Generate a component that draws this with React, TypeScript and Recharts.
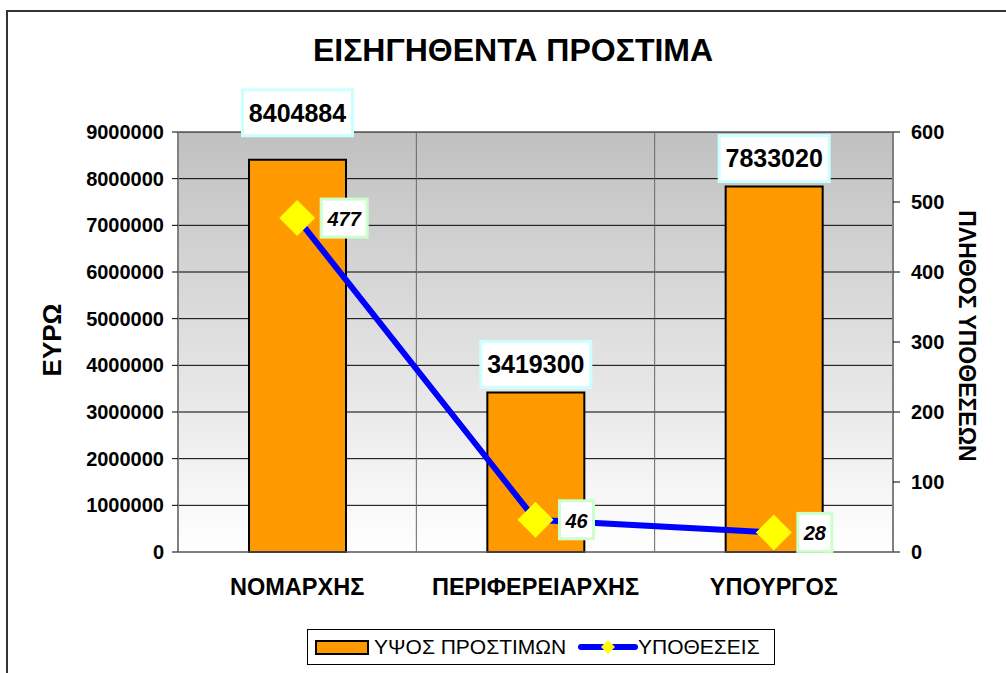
import React from "react"
import {
  ComposedChart,
  Bar,
  Line,
  XAxis,
  YAxis,
  CartesianGrid,
  Legend,
  LabelList,
  Label,
} from "recharts"

const categories = ["ΝΟΜΑΡΧΗΣ", "ΠΕΡΙΦΕΡΕΙΑΡΧΗΣ", "ΥΠΟΥΡΓΟΣ"]
const fineAmounts = [8404884, 3419300, 7833020]
const caseCounts = [477, 46, 28]
const euroTicks = [0, 1000000, 2000000, 3000000, 4000000, 5000000, 6000000, 7000000, 8000000, 9000000]
const caseTicks = [0, 100, 200, 300, 400, 500, 600]

const data = categories.map((name, i) => ({
  name,
  amount: fineAmounts[i],
  cases: caseCounts[i],
}))

const FONT = "'Liberation Sans', Arial, sans-serif"

// yellow diamond marker for the cases line
const Diamond = (props: any) => {
  const { cx, cy } = props
  if (cx == null || cy == null) return null
  const r = 18
  return (
    <path
      key={`d-${cx}`}
      d={`M${cx} ${cy - r} L${cx + r} ${cy} L${cx} ${cy + r} L${cx - r} ${cy} Z`}
      fill="#ffff00"
    />
  )
}

const BarValueLabel = (props: any) => {
  const { x, y, width, value, index } = props
  const cx = x + width / 2
  // first label sits higher in the original
  const lift = index === 0 ? 24 : 5
  const w = 110
  const h = 46
  return (
    <g>
      <rect x={cx - w / 2} y={y - lift - h} width={w} height={h} fill="#fff" stroke="#ccffff" strokeWidth={3} />
      <text
        x={cx}
        y={y - lift - h / 2}
        textAnchor="middle"
        dominantBaseline="central"
        fontFamily={FONT}
        fontWeight="bold"
        fontSize={25}
        fill="#000"
      >
        {value}
      </text>
    </g>
  )
}

const CaseLabel = (props: any) => {
  const { x, y, value } = props
  const w = String(value).length > 2 ? 46 : 34
  const h = 38
  const left = x + 24
  return (
    <g>
      <rect x={left} y={y - h / 2} width={w} height={h} fill="#fff" stroke="#ccffcc" strokeWidth={3} />
      <text
        x={left + w / 2}
        y={y + 1}
        textAnchor="middle"
        dominantBaseline="central"
        fontFamily={FONT}
        fontWeight="bold"
        fontStyle="italic"
        fontSize={20}
        fill="#000"
      >
        {value}
      </text>
    </g>
  )
}

const LeftTitle = (props: any) => {
  const vb = props.viewBox || { x: 0, y: 132, width: 178, height: 420 }
  const x = vb.x + 52
  const y = vb.y + vb.height / 2 - 2
  return (
    <text
      x={x}
      y={y}
      transform={`rotate(-90 ${x} ${y})`}
      textAnchor="middle"
      dominantBaseline="central"
      fontFamily={FONT}
      fontWeight="bold"
      fontSize={26}
      fill="#000"
    >
      ΕΥΡΩ
    </text>
  )
}

const RightTitle = (props: any) => {
  const vb = props.viewBox || { x: 893, y: 132, width: 113, height: 420 }
  const x = vb.x + 74
  const y = vb.y + vb.height / 2 - 6
  return (
    <text
      x={x}
      y={y}
      transform={`rotate(90 ${x} ${y})`}
      textAnchor="middle"
      dominantBaseline="central"
      fontFamily={FONT}
      fontWeight="bold"
      fontSize={23}
      fill="#000"
    >
      ΠΛΗΘΟΣ ΥΠΟΘΕΣΕΩΝ
    </text>
  )
}

const renderLegend = (props: any) => {
  const items: any[] = props.payload || []
  const barName = items.find((p) => p.dataKey === "amount")?.value ?? "ΥΨΟΣ ΠΡΟΣΤΙΜΩΝ"
  const lineName = items.find((p) => p.dataKey === "cases")?.value ?? "ΥΠΟΘΕΣΕΙΣ"
  return (
    <svg width={470} height={37} style={{ display: "block" }}>
      <rect x={0.5} y={0.5} width={467} height={35} fill="#fff" stroke="#000" />
      <rect x={9} y={12} width={52} height={13} fill="#ff9900" stroke="#000" strokeWidth={2} />
      <text x={67} y={25} fontFamily={FONT} fontSize={21} fill="#000">
        {barName}
      </text>
      <line x1={274} x2={328} y1={18} y2={18} stroke="#0000ff" strokeWidth={6} strokeLinecap="round" />
      <path d="M301 11 L308 18 L301 25 L294 18 Z" fill="#ffff00" />
      <text x={331} y={25} fontFamily={FONT} fontSize={21} fill="#000">
        {lineName}
      </text>
    </svg>
  )
}

export default function App() {
  return (
    <div
      style={{
        position: "absolute",
        left: 0,
        top: 0,
        width: 1006,
        height: 673,
        overflow: "hidden",
        background: "#fff",
        fontFamily: FONT,
      }}
    >
      <div
        style={{
          position: "absolute",
          left: 6,
          top: 10,
          width: 1100,
          height: 800,
          border: "2px solid #333",
        }}
      />
      <div
        style={{
          position: "absolute",
          left: 0,
          top: 30,
          width: 1026,
          textAlign: "center",
          fontWeight: "bold",
          fontSize: 32,
          lineHeight: "40px",
          color: "#000",
        }}
      >
        ΕΙΣΗΓΗΘΕΝΤΑ ΠΡΟΣΤΙΜΑ
      </div>
      <div style={{ position: "absolute", left: 0, top: 0 }}>
        <ComposedChart
          width={1006}
          height={673}
          data={data}
          margin={{ top: 132, right: 0, left: 0, bottom: 0 }}
        >
          <defs>
            <linearGradient id="plotBg" x1="0" y1="0" x2="0" y2="1">
              <stop offset="0%" stopColor="#c0c0c0" />
              <stop offset="100%" stopColor="#ffffff" />
            </linearGradient>
          </defs>
          <CartesianGrid
            yAxisId="left"
            vertical={false}
            stroke="#000"
            fill="url(#plotBg)"
            fillOpacity={1}
          />
          <CartesianGrid
            yAxisId="left"
            horizontal={false}
            stroke="#666"
            verticalCoordinatesGenerator={({ offset }: any) => [
              offset.left + offset.width / 3,
              offset.left + (2 * offset.width) / 3,
            ]}
          />
          <XAxis
            dataKey="name"
            height={121}
            axisLine={{ stroke: "#808080" }}
            tickLine={false}
            tickMargin={20}
            tick={{ fill: "#000", fontSize: 23.5, fontWeight: "bold", fontFamily: FONT }}
          />
          <YAxis
            yAxisId="left"
            width={178}
            domain={[0, 9000000]}
            ticks={euroTicks}
            interval={0}
            tickSize={6}
            tickMargin={8}
            axisLine={{ stroke: "#808080", strokeWidth: 2 }}
            tickLine={{ stroke: "#000" }}
            tick={{ fill: "#000", fontSize: 20, fontWeight: "bold", fontFamily: FONT }}
          >
            <Label content={<LeftTitle />} />
          </YAxis>
          <YAxis
            yAxisId="right"
            orientation="right"
            width={113}
            domain={[0, 600]}
            ticks={caseTicks}
            interval={0}
            tickSize={7}
            tickMargin={11}
            axisLine={{ stroke: "#808080", strokeWidth: 2 }}
            tickLine={{ stroke: "#000" }}
            tick={{ fill: "#000", fontSize: 20, fontWeight: "bold", fontFamily: FONT }}
          >
            <Label content={<RightTitle />} />
          </YAxis>
          <Bar
            yAxisId="left"
            dataKey="amount"
            name="ΥΨΟΣ ΠΡΟΣΤΙΜΩΝ"
            fill="#ff9900"
            stroke="#000"
            strokeWidth={2}
            barSize={97}
            isAnimationActive={false}
          >
            <LabelList dataKey="amount" content={<BarValueLabel />} />
          </Bar>
          <Line
            yAxisId="right"
            type="linear"
            dataKey="cases"
            name="ΥΠΟΘΕΣΕΙΣ"
            stroke="#0000ff"
            strokeWidth={6}
            dot={<Diamond />}
            activeDot={false}
            isAnimationActive={false}
          >
            <LabelList dataKey="cases" content={<CaseLabel />} />
          </Line>
          <Legend
            layout="horizontal"
            verticalAlign="middle"
            align="center"
            content={renderLegend}
            wrapperStyle={{ position: "absolute", left: 307, top: 629, width: 470, height: 37 }}
          />
        </ComposedChart>
      </div>
    </div>
  )
}
